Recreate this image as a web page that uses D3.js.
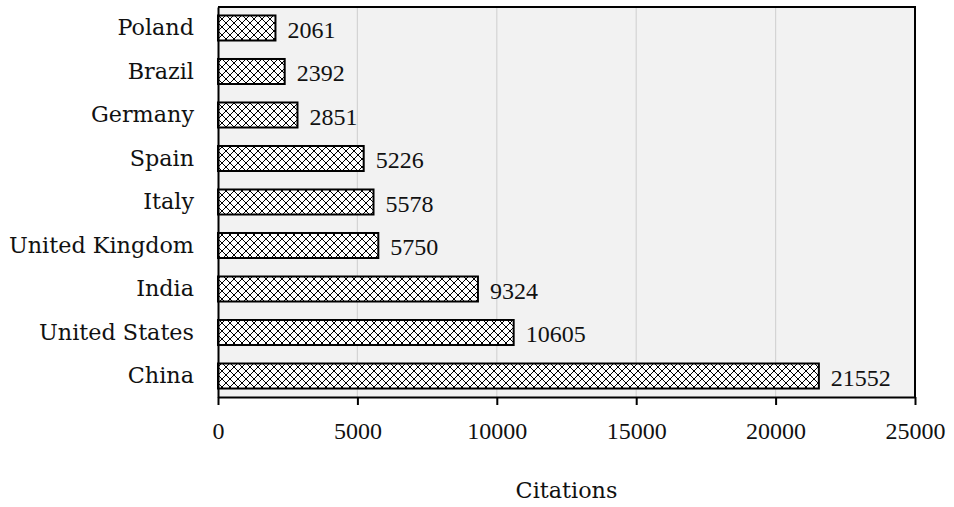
<!DOCTYPE html>
<html>
<head>
<meta charset="utf-8">
<script src="https://cdn.jsdelivr.net/npm/d3@7"></script>
<style>
  body { margin: 0; background: #fff; }
  svg text { fill: #111; }
  .word { font-family: "DejaVu Serif", serif; font-size: 22.3px; }
  .num { font-family: "Liberation Serif", serif; font-size: 24px; }
</style>
</head>
<body>
<div id="chart"></div>
<script>
const countries = ["Poland", "Brazil", "Germany", "Spain", "Italy", "United Kingdom", "India", "United States", "China"];
const citations = [2061, 2392, 2851, 5226, 5578, 5750, 9324, 10605, 21552];
const xTicks = [0, 5000, 10000, 15000, 20000, 25000];

const width = 954, height = 507;
const margin = {top: 7, right: 39, bottom: 110, left: 218};
const innerWidth = width - margin.left - margin.right;
const innerHeight = height - margin.top - margin.bottom;

const data = countries.map((c, i) => ({country: c, value: citations[i]}));

const svg = d3.select("#chart")
    .append("svg")
    .attr("width", width)
    .attr("height", height);

const defs = svg.append("defs");
const pat = defs.append("pattern")
    .attr("id", "hatch")
    .attr("patternUnits", "userSpaceOnUse")
    .attr("width", 8)
    .attr("height", 8);
pat.append("rect").attr("width", 8).attr("height", 8).attr("fill", "#fff");
pat.append("path")
    .attr("d", "M0,0 L8,8 M8,0 L0,8")
    .attr("stroke", "#000")
    .attr("stroke-width", 1);

const g = svg.append("g")
    .attr("transform", `translate(${margin.left},${margin.top})`);

const x = d3.scaleLinear()
    .domain([0, 25000])
    .range([0, innerWidth]);

const y = d3.scaleBand()
    .domain(countries)
    .range([0, innerHeight])
    .paddingInner(0.425)
    .paddingOuter(0.195);

g.append("rect")
    .attr("width", innerWidth)
    .attr("height", innerHeight)
    .attr("fill", "#f2f2f2");

g.selectAll(".grid")
    .data(xTicks.slice(1, -1))
    .enter()
    .append("line")
    .attr("class", "grid")
    .attr("x1", d => x(d))
    .attr("x2", d => x(d))
    .attr("y1", 0)
    .attr("y2", innerHeight)
    .attr("stroke", "#d4d4d4")
    .attr("stroke-width", 1.2);

// top and right frame
g.append("path")
    .attr("d", `M0,0 H${innerWidth} V${innerHeight}`)
    .attr("fill", "none")
    .attr("stroke", "#000")
    .attr("stroke-width", 2);

g.selectAll(".bar")
    .data(data)
    .enter()
    .append("rect")
    .attr("class", "bar")
    .attr("x", 0)
    .attr("y", d => y(d.country))
    .attr("width", d => x(d.value))
    .attr("height", y.bandwidth())
    .attr("fill", "url(#hatch)")
    .attr("stroke", "#000")
    .attr("stroke-width", 2);

g.selectAll(".val")
    .data(data)
    .enter()
    .append("text")
    .attr("class", "val num")
    .attr("x", d => x(d.value) + 12)
    .attr("y", d => y(d.country) + y.bandwidth() / 2)
    .attr("dy", "0.4em")
    .text(d => d.value);

const xAxis = g.append("g")
    .attr("transform", `translate(0,${innerHeight})`)
    .call(d3.axisBottom(x).tickValues(xTicks).tickSize(8).tickSizeOuter(0).tickPadding(17).tickFormat(d3.format("d")));
xAxis.select(".domain").attr("stroke", "#000").attr("stroke-width", 2);
xAxis.selectAll(".tick line").attr("stroke", "#000").attr("stroke-width", 2);
xAxis.selectAll("text").attr("class", "num").attr("fill", "#111");
xAxis.attr("font-size", null).attr("font-family", null);

const yAxis = g.append("g")
    .call(d3.axisLeft(y).tickSize(0).tickPadding(24));
yAxis.select(".domain").attr("stroke", "#000").attr("stroke-width", 2);
yAxis.selectAll("text").attr("class", "word").attr("fill", "#111");
yAxis.attr("font-size", null).attr("font-family", null);

svg.append("text")
    .attr("class", "word")
    .attr("x", margin.left + innerWidth / 2)
    .attr("y", 498)
    .attr("text-anchor", "middle")
    .text("Citations");
</script>
</body>
</html>
